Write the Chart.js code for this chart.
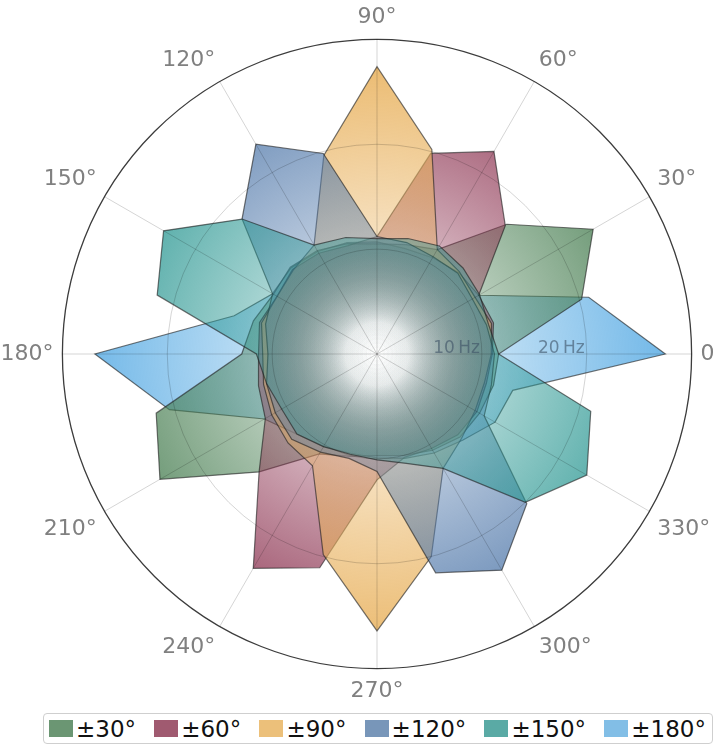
<!DOCTYPE html>
<html>
<head>
<meta charset="utf-8">
<script src="https://cdn.jsdelivr.net/npm/chart.js@4"></script>
<style>
    html, body { margin: 0; padding: 0; background: #fff; overflow: hidden; }
    body { width: 718px; height: 744px; position: relative; }
    #polar { position: absolute; left: -18px; top: 4px; }
    #legend {
        position: absolute; left: 43px; top: 713px; width: 670px; height: 31px;
        box-sizing: border-box; border: 1px solid #cfcfcf; border-radius: 4px;
        display: flex; align-items: center; justify-content: space-between;
        padding: 0 6px 0 5px; font-family: "DejaVu Sans", sans-serif; font-size: 23px; color: #111;
    }
    .item { display: flex; align-items: center; }
    .swatch { width: 24px; height: 17px; margin-right: 3px; }
</style>
</head>
<body>
<canvas id="polar" width="760" height="700"></canvas>
<div id="legend"></div>
<script>
// Direction of each sample, degrees (counter-clockwise from the right)
const angles = [0, 15, 30, 45, 60, 75, 90, 105, 120, 135, 150, 165,
                180, 195, 210, 225, 240, 255, 270, 285, 300, 315, 330, 345];

// Response (Hz) per direction, one list per condition
const rate30  = [11.6, 20.2, 23.8, 17.5, 11.5, 10.8, 10.5, 10.9, 11.4, 11.7, 11.4, 12.2,
                 12.9, 21.8, 23.9, 15.9, 11.0, 10.1, 9.7, 10.0, 10.6, 11.2, 11.3, 11.5];
const rate60  = [11.0, 11.5, 11.2, 17.3, 22.3, 19.8, 11.2, 10.7, 11.1, 11.4, 11.0, 11.6,
                 11.3, 11.7, 12.3, 15.9, 23.6, 21.1, 12.0, 10.2, 10.4, 10.9, 11.0, 10.8];
const rate90  = [10.9, 11.3, 10.8, 11.1, 11.5, 20.2, 27.4, 19.6, 12.0, 11.3, 11.0, 11.4,
                 10.9, 11.2, 11.6, 12.0, 12.3, 19.8, 26.4, 20.0, 12.6, 11.4, 10.8, 10.6];
const rate120 = [11.2, 10.8, 10.5, 10.9, 10.7, 11.0, 11.2, 19.8, 23.1, 18.2, 11.5, 11.0,
                 10.4, 10.9, 11.2, 11.5, 10.8, 10.3, 11.2, 21.6, 23.8, 20.2, 11.8, 11.3];
const rate150 = [11.6, 11.0, 11.3, 11.6, 11.9, 11.4, 11.0, 11.5, 12.0, 18.2, 23.5, 21.7,
                 11.5, 10.9, 10.5, 10.8, 10.2, 9.9, 10.1, 10.8, 12.6, 20.0, 23.1, 21.1];
const rate180 = [27.5, 20.9, 11.2, 11.0, 10.6, 10.4, 10.7, 11.0, 11.3, 11.6, 11.5, 14.1,
                 26.9, 20.5, 12.4, 10.8, 10.2, 9.8, 9.9, 10.3, 10.9, 11.6, 13.0, 13.4];

const seriesLabels = ['±30°', '±60°', '±90°', '±120°', '±150°', '±180°'];
const seriesValues = [rate30, rate60, rate90, rate120, rate150, rate180];
const radialTicks = [10, 20];
const radialMax = 30;

// fill base colours (rgb) and the flat legend swatches
const palette = [[70, 125, 80], [140, 50, 80], [232, 176, 90], [80, 120, 170], [40, 150, 145], [90, 172, 228]];
const swatches = ['#6b9673', '#a05a70', '#ecc07a', '#7896b9', '#5aaaa5', '#82bee6'];
// paint order: higher goes underneath (±180 at the bottom, ±150 on top)
const layer = [5, 4, 3, 2, 1, 6];

Chart.defaults.font.family = '"DejaVu Sans", sans-serif';

// radar goes clockwise, so walk the angles backwards starting at 0
const n = angles.length;
const order = angles.map((_, i) => (n - i) % n);

function radialFill(chart, rgb) {
    const r = chart.scales.r;
    const flat = `rgba(${rgb.join(',')},0.5)`;
    if (!r || r.xCenter === undefined || !r.drawingArea) return flat;
    const g = chart.ctx.createRadialGradient(r.xCenter, r.yCenter, 0, r.xCenter, r.yCenter, r.drawingArea);
    const c = rgb.join(',');
    g.addColorStop(0, `rgba(${c},0)`);
    g.addColorStop(0.1, `rgba(${c},0.03)`);
    g.addColorStop(0.34, `rgba(${c},0.36)`);
    g.addColorStop(1, `rgba(${c},0.92)`);
    return g;
}

// "10 Hz", "20 Hz" along the 0° spoke
const hzLabels = {
    id: 'hzLabels',
    afterDraw(chart) {
        const r = chart.scales.r;
        const ctx = chart.ctx;
        ctx.save();
        ctx.font = '17px "DejaVu Sans"';
        ctx.fillStyle = 'rgba(60,80,100,0.6)';
        ctx.textAlign = 'right';
        ctx.textBaseline = 'alphabetic';
        radialTicks.forEach(v => {
            const x = r.xCenter + r.getDistanceFromCenterForValue(v) - 2;
            ctx.fillText(v + '\u2009Hz', x, r.yCenter - 1);
        });
        ctx.restore();
    }
};

new Chart(document.getElementById('polar'), {
    type: 'radar',
    data: {
        labels: order.map(k => angles[k]),
        datasets: seriesValues.map((vals, s) => ({
            label: seriesLabels[s],
            data: order.map(k => vals[k]),
            order: layer[s],
            fill: true,
            backgroundColor: ctx => radialFill(ctx.chart, palette[s]),
            borderColor: 'rgba(30,30,30,0.62)',
            borderWidth: 1.2,
            pointRadius: 0,
            pointHitRadius: 0
        }))
    },
    options: {
        responsive: false,
        animation: false,
        devicePixelRatio: 1,
        events: [],
        layout: { padding: 0 },
        plugins: { legend: { display: false }, tooltip: { enabled: false } },
        scales: {
            r: {
                min: 0,
                max: radialMax,
                startAngle: 90,
                ticks: { display: false, stepSize: 10 },
                grid: {
                    z: 1,
                    circular: true,
                    color: c => c.tick.value === radialMax ? '#3c3c3c' : 'rgba(0,0,0,0.17)',
                    lineWidth: c => c.tick.value === radialMax ? 1.3 : 1
                },
                angleLines: {
                    color: 'rgba(0,0,0,0.17)',
                    lineWidth: c => c.label ? 1 : 0
                },
                pointLabels: {
                    padding: 9,
                    color: '#808080',
                    font: { size: 22 },
                    callback: v => v % 30 ? '' : (v === 0 ? '0' : v + '°')
                }
            }
        }
    },
    plugins: [hzLabels]
});

// legend
document.getElementById('legend').innerHTML = seriesLabels.map((lab, i) =>
    `<div class="item"><span class="swatch" style="background:${swatches[i]}"></span>${lab}</div>`
).join('');
</script>
</body>
</html>
